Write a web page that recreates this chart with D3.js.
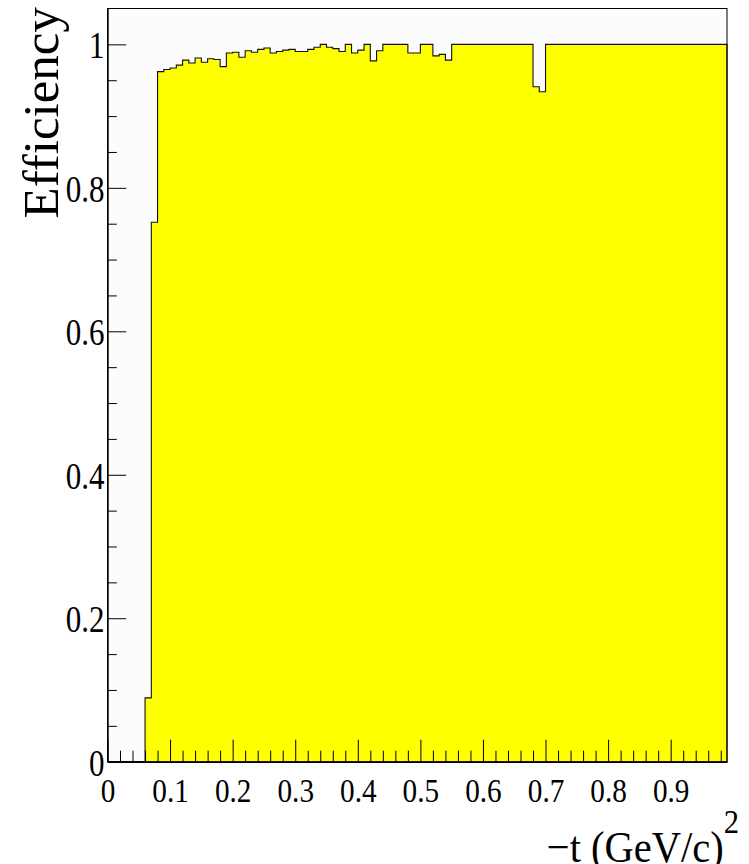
<!DOCTYPE html>
<html>
<head>
<meta charset="utf-8">
<script src="https://cdn.jsdelivr.net/npm/d3@7"></script>
<style>
  html, body { margin: 0; padding: 0; background: #ffffff; }
  svg { display: block; }
  text { font-family: "Liberation Serif", "Times New Roman", serif; fill: #000; font-variant-ligatures: none; }
</style>
</head>
<body>
<svg id="chart" width="749" height="864"></svg>
<script>
// Efficiency per -t bin (bin width 0.01 (GeV/c)^2, first bin starts at 0)
const binWidth = 0.01;
const efficiency = [
  0, 0, 0, 0, 0, 0, 0.089, 0.752, 0.962, 0.965,
  0.967, 0.971, 0.978, 0.974, 0.981, 0.975, 0.980, 0.979, 0.969, 0.988,
  0.989, 0.982, 0.991, 0.989, 0.993, 0.995, 0.988, 0.990, 0.992, 0.993,
  0.990, 0.990, 0.993, 0.996, 1.000, 0.996, 0.994, 0.990, 1.000, 0.988,
  0.992, 1.000, 0.977, 0.991, 1.000, 1.000, 1.000, 1.000, 0.988, 0.988,
  1.000, 1.000, 0.984, 0.986, 0.978, 1.000, 1.000, 1.000, 1.000, 1.000,
  1.000, 1.000, 1.000, 1.000, 1.000, 1.000, 1.000, 1.000, 0.941, 0.934,
  1.000, 1.000, 1.000, 1.000, 1.000, 1.000, 1.000, 1.000, 1.000, 1.000,
  1.000, 1.000, 1.000, 1.000, 1.000, 1.000, 1.000, 1.000, 1.000, 1.000,
  1.000, 1.000, 1.000, 1.000, 1.000, 1.000, 1.000, 1.000, 1.000
];

const xTickValues = [0, 0.1, 0.2, 0.3, 0.4, 0.5, 0.6, 0.7, 0.8, 0.9];
const xTickLabels = ["0", "0.1", "0.2", "0.3", "0.4", "0.5", "0.6", "0.7", "0.8", "0.9"];
const yTickValues = [0, 0.2, 0.4, 0.6, 0.8, 1.0];
const yTickLabels = ["0", "0.2", "0.4", "0.6", "0.8", "1"];
const xTitleMain = "\u2212t (GeV/c)";
const xTitleSup = "2";
const yTitle = "Efficiency";

// ---- layout ----
const frame = { left: 107.5, right: 727, top: 8.5, bottom: 761.7 };
const xMax = efficiency.length * binWidth;
const yMax = 1.05;

const x = d3.scaleLinear().domain([0, xMax]).range([frame.left, frame.right]);
const y = d3.scaleLinear().domain([0, yMax]).range([frame.bottom, frame.top]);

const svg = d3.select("#chart");

// frame background
svg.append("rect")
  .attr("x", frame.left).attr("y", frame.top)
  .attr("width", frame.right - frame.left)
  .attr("height", frame.bottom - frame.top)
  .attr("fill", "#fcfcfc");

// histogram
const pts = efficiency.map((v, i) => [i * binWidth, v]);
pts.push([xMax, efficiency[efficiency.length - 1]]);
pts.push([xMax, 0]);

const area = d3.area()
  .curve(d3.curveStepAfter)
  .x(d => x(d[0]))
  .y0(y(0))
  .y1(d => y(d[1]));

const line = d3.line()
  .curve(d3.curveStepAfter)
  .x(d => x(d[0]))
  .y(d => y(d[1]));

svg.append("path")
  .attr("d", area(pts))
  .attr("fill", "#ffff00");

svg.append("path")
  .attr("d", line(pts))
  .attr("fill", "none")
  .attr("stroke", "#111")
  .attr("stroke-width", 1.1);

// ---- axes ----
const near = (v, step) => Math.abs(v / step - Math.round(v / step)) < 1e-6;

const xMinor = d3.range(0, xMax - 1e-9, 0.02).filter(v => !near(v, 0.1));
const yMinor = d3.range(0, 1.0001, 0.05).filter(v => !near(v, 0.2));

// x minor ticks
svg.append("g")
  .attr("transform", `translate(0,${frame.bottom})`)
  .call(d3.axisBottom(x).tickValues(xMinor).tickSize(-11).tickSizeOuter(0).tickFormat(""))
  .call(g => g.select(".domain").remove())
  .call(g => g.selectAll(".tick line").attr("stroke", "#000").attr("stroke-width", 1));

// x major ticks + labels
const gx = svg.append("g")
  .attr("transform", `translate(0,${frame.bottom})`)
  .call(d3.axisBottom(x).tickValues(xTickValues).tickSize(-22).tickSizeOuter(0)
    .tickFormat((d, i) => xTickLabels[i]));
gx.select(".domain").attr("stroke", "#000").attr("stroke-width", 1.6);
gx.selectAll(".tick line").attr("stroke", "#000").attr("stroke-width", 1);
gx.selectAll(".tick text")
  .attr("y", 40).attr("dy", 0)
  .attr("font-size", 34)
  .attr("transform", "scale(0.86,1)");

// y minor ticks
svg.append("g")
  .attr("transform", `translate(${frame.left},0)`)
  .call(d3.axisLeft(y).tickValues(yMinor).tickSize(-9.3).tickSizeOuter(0).tickFormat(""))
  .call(g => g.select(".domain").remove())
  .call(g => g.selectAll(".tick line").attr("stroke", "#000").attr("stroke-width", 1));

// y major ticks + labels
const gy = svg.append("g")
  .attr("transform", `translate(${frame.left},0)`)
  .call(d3.axisLeft(y).tickValues(yTickValues).tickSize(-18.7).tickSizeOuter(0)
    .tickFormat((d, i) => yTickLabels[i]));
gy.select(".domain").attr("stroke", "#000").attr("stroke-width", 1.4);
gy.selectAll(".tick line").attr("stroke", "#000").attr("stroke-width", 1);
gy.selectAll(".tick text")
  .attr("x", -3.5).attr("y", 13.5).attr("dy", 0)
  .attr("font-size", 37)
  .attr("text-anchor", "end")
  .attr("transform", "scale(0.84,1)");

// frame border
svg.append("rect")
  .attr("x", frame.left).attr("y", frame.top)
  .attr("width", frame.right - frame.left)
  .attr("height", frame.bottom - frame.top)
  .attr("fill", "none")
  .attr("stroke", "#000")
  .attr("stroke-width", 1);

// ---- titles ----
const xt = svg.append("text")
  .attr("transform", "translate(739,861.7) scale(0.9,1)")
  .attr("text-anchor", "end")
  .attr("font-size", 45);
xt.append("tspan").text(xTitleMain);
xt.append("tspan").attr("dy", -29).attr("font-size", 34).text(xTitleSup);

svg.append("text")
  .attr("transform", "translate(58,7) rotate(-90)")
  .attr("text-anchor", "end")
  .attr("font-size", 51)
  .text(yTitle);
</script>
</body>
</html>
